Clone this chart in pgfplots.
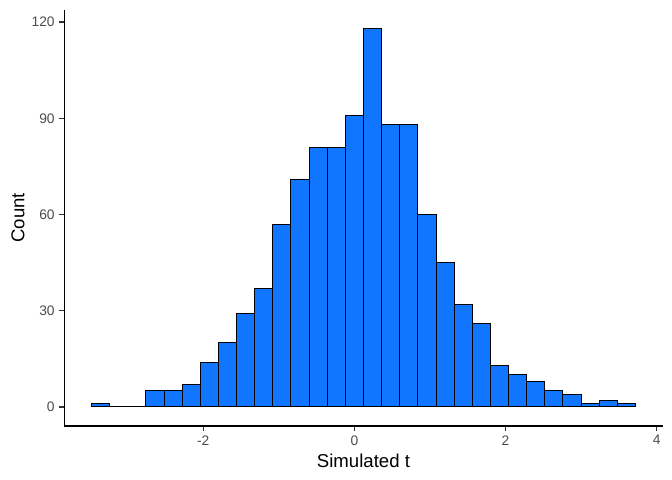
\documentclass[border=0pt]{standalone}
\usepackage{pgfplots}
\pgfplotsset{compat=1.18}
\usepackage{fontspec}
\setmainfont{Liberation Sans}
\definecolor{barblue}{RGB}{16,117,255}
\definecolor{tickgray}{RGB}{77,77,77}
\definecolor{tickline}{RGB}{51,51,51}
\begin{document}
\begin{tikzpicture}
\path[use as bounding box] (0,0) rectangle (504bp,360bp);
\begin{axis}[
  at={(48.2bp,40.6bp)}, anchor=south west,
  scale only axis, width=448.8bp, height=312.2bp,
  xmin=-3.84, xmax=4.08, ymin=-5.9, ymax=123.9,
  axis x line*=bottom, axis y line*=left,
  axis line style={-, line width=1pt, black},
  xtick={-2,0,2,4}, ytick={0,30,60,90,120},
  tick align=outside, major tick length=3.7bp,
  tick style={line width=1pt, tickline},
  /pgf/number format/assume math mode=true,
  ticklabel style={font=\fontsize{10.4}{12}\selectfont, text=tickgray},
  xticklabel style={yshift=0bp},
  yticklabel style={xshift=0bp},
  xlabel={Simulated t}, ylabel={Count},
  label style={font=\fontsize{14}{16}\selectfont, text=black},
  xlabel style={at={(axis description cs:0.5,-0.0996)}, anchor=base},
  ylabel style={at={(axis description cs:-0.0668,0.5)}, anchor=base, rotate=0},
  clip=false,
]
\addplot[ybar interval, fill=barblue, draw=black, line width=0.75pt] table[x=x, y=y] {
x y
-3.48 1
-3.24 0
-3.00 0
-2.76 5
-2.52 5
-2.28 7
-2.04 14
-1.80 20
-1.56 29
-1.32 37
-1.08 57
-0.84 71
-0.60 81
-0.36 81
-0.12 91
0.12 118
0.36 88
0.60 88
0.84 60
1.08 45
1.32 32
1.56 26
1.80 13
2.04 10
2.28 8
2.52 5
2.76 4
3.00 1
3.24 2
3.48 1
3.72 0
};
\end{axis}
\end{tikzpicture}
\end{document}
